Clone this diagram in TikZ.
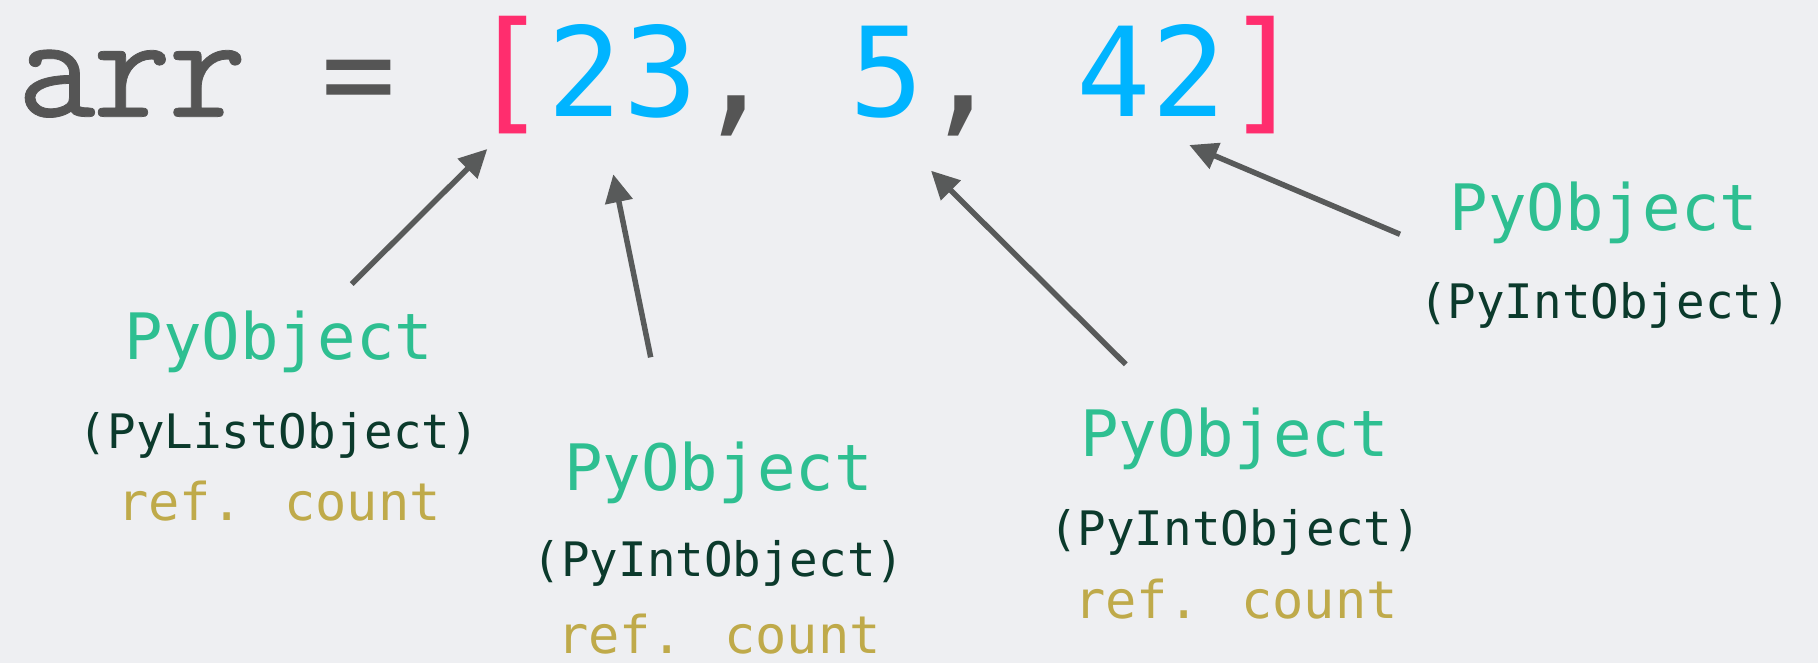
\documentclass[tikz,border=0pt]{standalone}
\usepackage{fontspec}
\usetikzlibrary{arrows.meta}
\newfontfamily\dvm{DejaVu Sans Mono}
\newfontfamily\lmtyp[FakeBold=0.5]{Latin Modern Mono}
\definecolor{bgc}{HTML}{EEEFF2}
\definecolor{objgreen}{HTML}{2EBF91}
\definecolor{typedark}{HTML}{0B3A2C}
\definecolor{refgold}{HTML}{BFAA4A}
\definecolor{numblue}{HTML}{00B4FF}
\definecolor{brkpink}{HTML}{FF2D6E}
\definecolor{codegray}{HTML}{555555}
\definecolor{arrgray}{HTML}{585A5A}
\newcommand{\cellbox}[1]{\makebox[75.5pt][c]{#1}}
\begin{document}
\begin{tikzpicture}[x=1pt,y=-1pt,
  objname/.style={anchor=base, inner sep=0pt, text=objgreen, font=\dvm\fontsize{64}{64}\selectfont},
  objtype/.style={anchor=base, inner sep=0pt, text=typedark, font=\dvm\fontsize{47.5}{47.5}\selectfont},
  objref/.style={anchor=base, inner sep=0pt, text=refgold, font=\dvm\fontsize{52}{52}\selectfont},
  pointer/.style={draw=arrgray, line width=5.5pt, -{Triangle[length=28pt,width=27pt]}},
]
\fill[bgc] (0,0) rectangle (1818,663);
\useasboundingbox (0,0) rectangle (1818,663);

% top line
\node[anchor=base west, inner sep=0pt, text=codegray] (code) at (18.5,116.7)
  {{\lmtyp\fontsize{152}{152}\selectfont\cellbox{a}\cellbox{r}\cellbox{r}}%
   {\dvm\fontsize{124}{124}\selectfont\cellbox{}\cellbox{=}\cellbox{}%
    \textcolor{brkpink}{\cellbox{\fontsize{132}{132}\selectfont[}}%
    \textcolor{numblue}{\cellbox{2}\cellbox{3}}\cellbox{\fontsize{140}{140}\selectfont,}\cellbox{}%
    \textcolor{numblue}{\cellbox{5}}\cellbox{\fontsize{140}{140}\selectfont,}\cellbox{}%
    \textcolor{numblue}{\cellbox{4}\cellbox{2}}%
    \textcolor{brkpink}{\cellbox{\fontsize{132}{132}\selectfont]}}}};

% label 1
\node[objname] (l1a) at (279,359) {PyObject};
\node[objtype] (l1b) at (279,448) {(PyListObject)};
\node[objref]  (l1c) at (279,520) {ref. count};
% label 2
\node[objname] (l2a) at (718.5,490) {PyObject};
\node[objtype] (l2b) at (718.5,576) {(PyIntObject)};
\node[objref]  (l2c) at (719,653) {ref. count};
% label 3
\node[objname] (l3a) at (1234.5,456.7) {PyObject};
\node[objtype] (l3b) at (1235,545) {(PyIntObject)};
\node[objref]  (l3c) at (1236,618) {ref. count};
% label 4
\node[objname] (l4a) at (1604,231) {PyObject};
\node[objtype] (l4b) at (1605,318) {(PyIntObject)};

% arrows
\coordinate (s1) at (351.7,284);   \coordinate (e1) at (487.3,149);
\coordinate (s2) at (650.7,357.3); \coordinate (e2) at (613.3,174.3);
\coordinate (s3) at (1125.7,364.3);\coordinate (e3) at (931,170.7);
\coordinate (s4) at (1400,234.3);  \coordinate (e4) at (1189.3,145);
\draw[pointer] (s1) -- (e1);
\draw[pointer] (s2) -- (e2);
\draw[pointer] (s3) -- (e3);
\draw[pointer] (s4) -- (e4);
\end{tikzpicture}
\end{document}
